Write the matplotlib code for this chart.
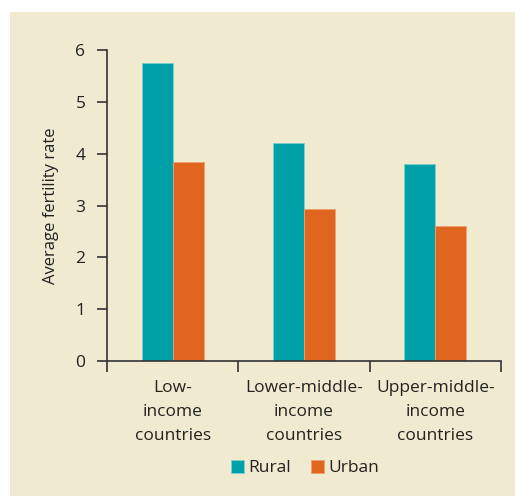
import matplotlib
matplotlib.use("Agg")
import matplotlib.pyplot as plt
from matplotlib.patches import Rectangle
import numpy as np

categories = ["Low-\nincome\ncountries", "Lower-middle-\nincome\ncountries", "Upper-middle-\nincome\ncountries"]
rural = [5.75, 4.20, 3.80]
urban = [3.83, 2.93, 2.60]
yticks = [0, 1, 2, 3, 4, 5, 6]

BG = "#f0ead0"
TEAL = "#00a0a8"
ORANGE = "#e0651e"
DARK = "#333333"
FS = 12.5

plt.rcParams['font.family'] = ['Open Sans', 'DejaVu Sans']

W, H = 515, 496
fig = plt.figure(figsize=(W / 100, H / 100), dpi=100)
fig.patch.set_facecolor("white")
bgrect = Rectangle((10 / W, 0), 1 - 10 / W, 1 - 12 / H, transform=fig.transFigure,
                   facecolor=BG, edgecolor="none", zorder=-10)
fig.add_artist(bgrect)

ax = fig.add_axes([107 / W, 135 / H, (501 - 107) / W, (361 - 50) / H])
ax.set_zorder(5)
ax.set_facecolor("none")

x = np.arange(len(categories))
bw = 0.237
ax.bar(x - bw / 2, rural, bw, color=TEAL, edgecolor="#7fcfcf", linewidth=0.6, label="Rural")
ax.bar(x + bw / 2, urban, bw, color=ORANGE, edgecolor="#f0a070", linewidth=0.6, label="Urban")

ax.set_xlim(-0.5, 2.5)
ax.set_ylim(0, 6)
ax.set_yticks(yticks)
ax.set_xticks([-0.5, 0.5, 1.5, 2.5])
ax.set_xticklabels([])
ax.set_xticks(x, minor=True)
ax.set_xticklabels(categories, minor=True, fontsize=FS, color="#222222", linespacing=1.65)
ax.tick_params(axis="x", which="minor", length=0, pad=14)
ax.tick_params(axis="x", which="major", length=8, width=1.2, color=DARK, direction="out")
ax.tick_params(axis="y", length=7.5, width=1.2, color=DARK, pad=8, labelsize=FS, labelcolor="#222222")

for s in ["top", "right"]:
    ax.spines[s].set_visible(False)
for s in ["left", "bottom"]:
    ax.spines[s].set_color(DARK)
    ax.spines[s].set_linewidth(1.2)

ax.set_ylabel("Average fertility rate", fontsize=FS - 0.5, color="#222222", labelpad=12)

leg = fig.legend(loc="center", bbox_to_anchor=(305 / W, 1 - 468 / H), ncol=2, frameon=False,
                 fontsize=FS, handlelength=0.75, handleheight=0.75, handletextpad=0.25,
                 columnspacing=1.1)
leg.set_zorder(6)
for t in leg.get_texts():
    t.set_color("#222222")

fig.savefig("out.png", dpi=100, facecolor=fig.get_facecolor())
